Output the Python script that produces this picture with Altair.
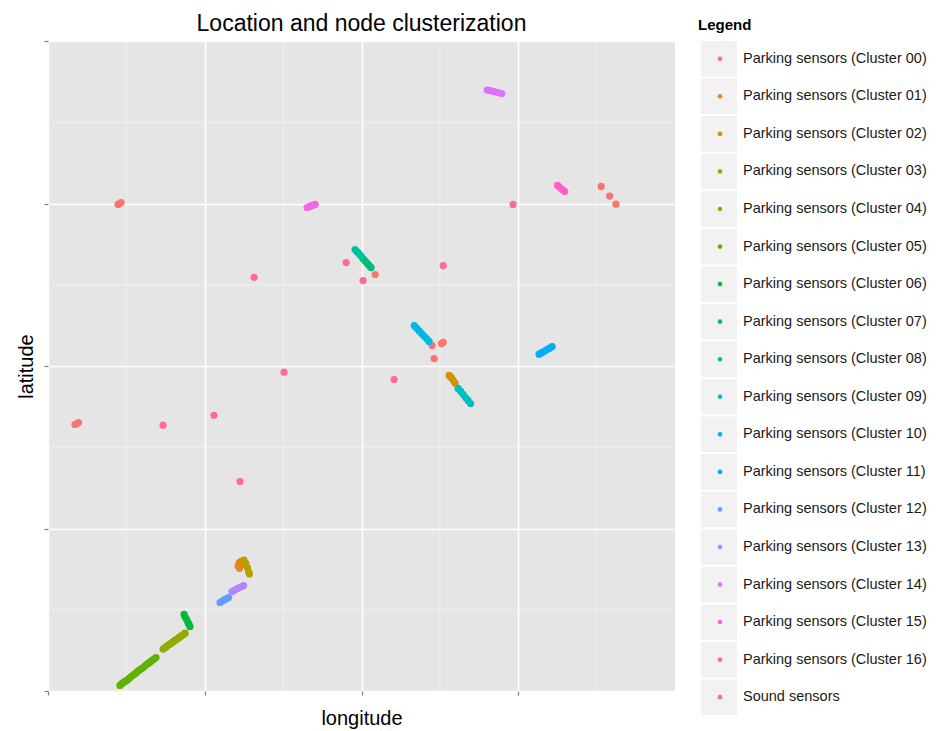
import altair as alt
import pandas as pd

# ---- data (arbitrary longitude / latitude units) ----
CLUSTER_00 = [(0.447, 2.994), (0.459, 3.000), (0.466, 3.006),
              (0.172, 1.640), (0.185, 1.646), (0.195, 1.652),
              (2.087, 2.563),
              (2.451, 2.126), (2.510, 2.138), (2.521, 2.145), (2.463, 2.046),
              (3.529, 3.105), (3.583, 3.046), (3.623, 2.996)]
CLUSTER_01 = [(1.213, 0.770), (1.222, 0.755), (1.230, 0.775), (1.220, 0.790)]
CLUSTER_02 = [(1.235, 0.800), (1.245, 0.790),
              (2.559, 1.942), (2.572, 1.930), (2.585, 1.912), (2.597, 1.895)]
CLUSTER_03 = [(1.250, 0.805), (1.262, 0.785), (1.272, 0.760), (1.280, 0.735), (1.285, 0.720)]
CLUSTER_04 = [(0.734, 0.258), (0.745, 0.266), (0.755, 0.273), (0.766, 0.281),
              (0.776, 0.288), (0.786, 0.294), (0.795, 0.300), (0.805, 0.308),
              (0.815, 0.315), (0.826, 0.321), (0.836, 0.328), (0.846, 0.336),
              (0.856, 0.343), (0.866, 0.349), (0.875, 0.356)]
CLUSTER_05 = [(0.459, 0.034), (0.471, 0.045), (0.484, 0.054), (0.497, 0.062),
              (0.511, 0.071), (0.523, 0.083), (0.535, 0.092), (0.548, 0.101),
              (0.561, 0.110), (0.572, 0.121), (0.584, 0.130), (0.598, 0.138),
              (0.611, 0.147), (0.623, 0.158), (0.636, 0.168), (0.648, 0.176),
              (0.660, 0.185), (0.675, 0.196), (0.689, 0.206)]
CLUSTER_06 = [(0.868, 0.471), (0.875, 0.455), (0.884, 0.441), (0.892, 0.424),
              (0.899, 0.411), (0.906, 0.397)]
CLUSTER_07 = [(2.010, 2.660), (2.025, 2.645), (2.040, 2.628), (2.052, 2.615), (2.061, 2.606)]
CLUSTER_08 = [(1.959, 2.717), (1.972, 2.703), (1.985, 2.690), (1.998, 2.675)]
CLUSTER_09 = [(2.616, 1.862), (2.632, 1.845), (2.648, 1.826), (2.664, 1.806),
              (2.680, 1.788), (2.696, 1.769)]
CLUSTER_10 = [(2.336, 2.249), (2.352, 2.233), (2.368, 2.216), (2.384, 2.200),
              (2.400, 2.183), (2.416, 2.167), (2.431, 2.151)]
CLUSTER_11 = [(3.133, 2.073), (3.150, 2.082), (3.167, 2.092), (3.183, 2.101),
              (3.200, 2.110), (3.216, 2.120)]
CLUSTER_12 = [(1.098, 0.545), (1.115, 0.555), (1.132, 0.565), (1.152, 0.575)]
CLUSTER_13 = [(1.174, 0.612), (1.192, 0.621), (1.210, 0.631), (1.229, 0.640), (1.248, 0.649)]
CLUSTER_14 = [(2.802, 3.698), (2.825, 3.694), (2.848, 3.688), (2.871, 3.683), (2.894, 3.677)]
CLUSTER_15 = [(1.653, 2.975), (1.670, 2.982), (1.687, 2.988), (1.704, 2.994)]
CLUSTER_16 = [(3.251, 3.111), (3.266, 3.098), (3.281, 3.086), (3.296, 3.074)]
SOUND = [(1.315, 2.546), (1.506, 1.962), (1.059, 1.697), (0.734, 1.636),
         (1.225, 1.289), (1.902, 2.637), (2.010, 2.526), (2.521, 2.618),
         (2.208, 1.917), (2.967, 2.994)]

GROUPS = [CLUSTER_00, CLUSTER_01, CLUSTER_02, CLUSTER_03, CLUSTER_04, CLUSTER_05,
          CLUSTER_06, CLUSTER_07, CLUSTER_08, CLUSTER_09, CLUSTER_10, CLUSTER_11,
          CLUSTER_12, CLUSTER_13, CLUSTER_14, CLUSTER_15, CLUSTER_16, SOUND]
LABELS = [f"Parking sensors (Cluster {i:02d})" for i in range(17)] + ["Sound sensors"]
COLORS = ["#F8766D", "#E88526", "#D39200", "#B79F00", "#93AA00", "#5EB300",
          "#00BA38", "#00BF74", "#00C19F", "#00BFC4", "#00B9E3", "#00ADFA",
          "#619CFF", "#AE87FF", "#DB72FB", "#F564E3", "#FF61C3", "#FF699C"]

X_TICKS = [0, 1, 2, 3]
Y_TICKS = [0, 1, 2, 3, 4]
X_MINOR = [0.5, 1.5, 2.5, 3.5]
Y_MINOR = [0.5, 1.5, 2.5, 3.5]

rows = []
for lab, pts in zip(LABELS, GROUPS):
    for lon, lat in pts:
        rows.append({"longitude": lon, "latitude": lat, "group": lab})
df = pd.DataFrame(rows)
legend_df = pd.DataFrame({"label": LABELS, "color": COLORS})

FONT = "Liberation Sans"
color_scale = alt.Scale(domain=LABELS, range=COLORS)
xscale = alt.Scale(domain=[0, 4], nice=False, zero=False)
yscale = alt.Scale(domain=[0, 4], nice=False, zero=False)

xminor = alt.Chart(pd.DataFrame({"v": X_MINOR})).mark_rule(
    color="#F2F2F2", strokeWidth=0.8
).encode(x=alt.X("v:Q", scale=xscale, title="longitude"))
yminor = alt.Chart(pd.DataFrame({"v": Y_MINOR})).mark_rule(
    color="#F2F2F2", strokeWidth=0.8
).encode(y=alt.Y("v:Q", scale=yscale, title="latitude"))

points = alt.Chart(df).mark_circle(size=52, opacity=1).encode(
    x=alt.X("longitude:Q", scale=xscale, title="longitude",
            axis=alt.Axis(values=X_TICKS, labels=False, domain=False, tickSize=4,
                          tickColor="#7F7F7F", tickWidth=1.2, gridColor="white",
                          gridWidth=1.6, titleFontSize=20, titleFont=FONT,
                          titleFontWeight="normal", titleColor="black",
                          titlePadding=13)),
    y=alt.Y("latitude:Q", scale=yscale, title="latitude",
            axis=alt.Axis(values=Y_TICKS, labels=False, domain=False, tickSize=4,
                          tickColor="#7F7F7F", tickWidth=1.2, gridColor="white",
                          gridWidth=1.6, titleFontSize=20, titleFont=FONT,
                          titleFontWeight="normal", titleColor="black",
                          titlePadding=7)),
    color=alt.Color("group:N", scale=color_scale, legend=None),
)

main = alt.layer(xminor, yminor, points).properties(
    width=627, height=650,
    title=alt.TitleParams("Location and node clusterization", fontSize=23,
                          font=FONT, fontWeight="normal", color="black",
                          anchor="middle", offset=4),
    view=alt.ViewBackground(fill="#E5E5E5", strokeWidth=0, stroke="transparent"),
)

yband = alt.Y("label:N", sort=LABELS, axis=None,
              scale=alt.Scale(paddingInner=0.053, paddingOuter=0))
keys = alt.Chart(legend_df).mark_rect(color="#F2F2F2").encode(
    y=yband, x=alt.value(0), x2=alt.value(36))
dots = alt.Chart(legend_df).mark_circle(size=22, opacity=1).encode(
    y=yband, x=alt.value(19),
    color=alt.Color("label:N", scale=color_scale, legend=None))
texts = alt.Chart(legend_df).mark_text(
    align="left", baseline="middle", fontSize=14.5, font=FONT, color="#1A1A1A"
).encode(y=yband, x=alt.value(42), text="label:N")

legend = alt.layer(keys, dots, texts).properties(
    width=40, height=674,
    title=alt.TitleParams("Legend", fontSize=15, font=FONT, fontWeight="bold",
                          color="black", anchor="start", offset=8, dx=-3),
    view=alt.ViewBackground(stroke="transparent", strokeWidth=0),
)

chart = alt.hconcat(main, legend, spacing=26, bounds="flush").properties(
    padding={"left": 8, "top": 5, "right": 0, "bottom": 0}
).configure_view(strokeWidth=0, stroke="transparent").configure(background="white")

chart.save("out.html", embed_options={"renderer": "svg", "actions": False})
